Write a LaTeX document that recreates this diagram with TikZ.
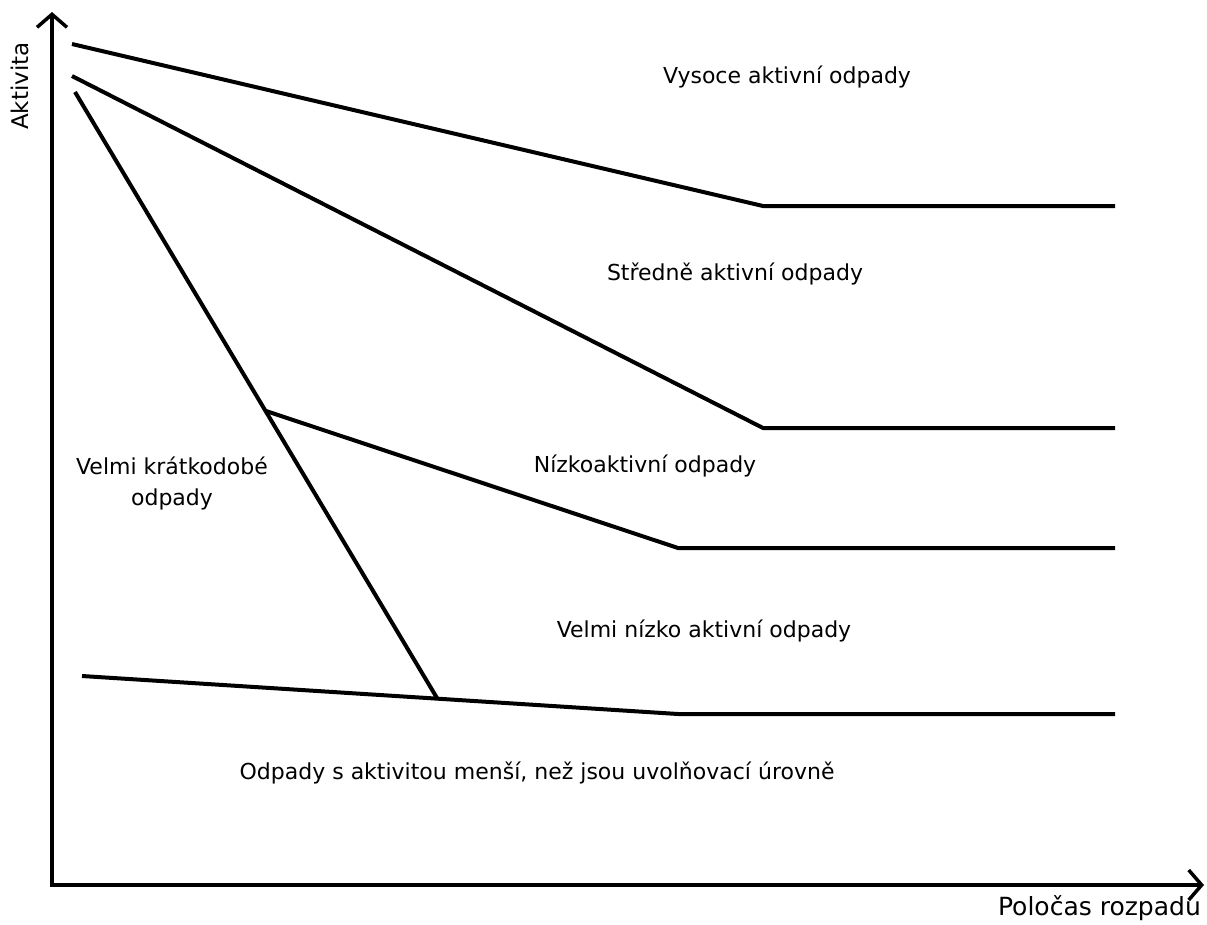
\documentclass[tikz,border=0pt]{standalone}
\usepackage{fontspec}
\setmainfont{DejaVu Sans}
\usetikzlibrary{arrows.meta}
\tikzset{
	osa/.style={line width=4.5pt,{Straight Barb[length=13pt,width=30pt,line width=3.5pt]}-{Straight Barb[length=13pt,width=30pt,line width=3.5pt]}},
	hranice/.style={line width=4pt,line join=round},
	popis/.style={font=\fontsize{22pt}{31pt}\selectfont,align=center,inner sep=0pt}
}
\begin{document}
\begin{tikzpicture}[x=1pt,y=-1pt]
			\useasboundingbox (0,0) rectangle (1207,924);
			% osy
			\coordinate (O) at (52,885);
			\coordinate (Y) at (52,12);
			\coordinate (X) at (1204,885);
			\draw[osa] (Y) -- (O) -- (X);
			\node[popis,font=\fontsize{23pt}{31pt}\selectfont,rotate=90] (aktivita) at (20,86) {Aktivita};
			\node[popis,font=\fontsize{25pt}{31pt}\selectfont,anchor=north east] (polocas) at (1201,895) {Poločas rozpadu};
			% hranice mezi kategoriemi
			\coordinate (a1) at (72,44);
			\coordinate (a2) at (763,206);
			\coordinate (a3) at (1115,206);
			\draw[hranice] (a1) -- (a2) -- (a3);
			\coordinate (b1) at (72,76);
			\coordinate (b2) at (763,428);
			\coordinate (b3) at (1115,428);
			\draw[hranice] (b1) -- (b2) -- (b3);
			\coordinate (c1) at (75,92);
			\coordinate (c2) at (437,698);
			\draw[hranice] (c1) -- (c2);
			\coordinate (d1) at (266,411);
			\coordinate (d2) at (678,548);
			\coordinate (d3) at (1115,548);
			\draw[hranice] (d1) -- (d2) -- (d3);
			\coordinate (e1) at (82,676);
			\coordinate (e2) at (678,714);
			\coordinate (e3) at (1115,714);
			\draw[hranice] (e1) -- (e2) -- (e3);
			% popisky
			\node[popis] (vaa) at (787,77) {Vysoce aktivní odpady};
			\node[popis] (saa) at (735,274) {Středně aktivní odpady};
			\node[popis] (naa) at (645,466) {Nízkoaktivní odpady};
			\node[popis] (vko) at (172,483) {Velmi krátkodobé\\odpady};
			\node[popis] (vnaa) at (704,631) {Velmi nízko aktivní odpady};
			\node[popis] (uvol) at (537,773) {Odpady s aktivitou menší, než jsou uvolňovací úrovně};
		\end{tikzpicture}
\end{document}
